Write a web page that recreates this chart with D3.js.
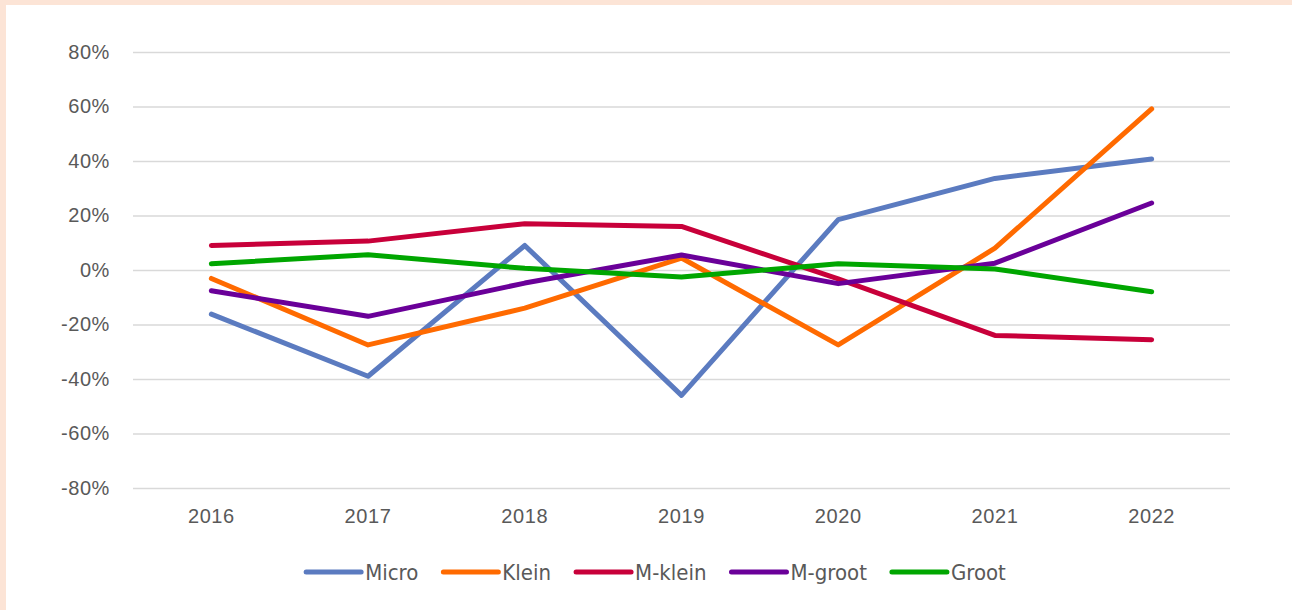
<!DOCTYPE html>
<meta charset="utf-8">
<style>
body { margin: 0; background: #fff; }
.grid line { stroke: #d9d9d9; stroke-width: 1.3; }
.grid path { display: none; }
.axis path, .axis line { display: none; }
.axis text { fill: #595959; font-family: "Liberation Sans", Arial, sans-serif; font-size: 20px; letter-spacing: 0.6px; }
.legend text { fill: #595959; font-family: "Liberation Sans Narrow", "DejaVu Sans Condensed", "Liberation Sans", sans-serif; font-size: 22px; }
</style>
<body>
<svg width="1292" height="610"></svg>
<script src="https://d3js.org/d3.v7.min.js"></script>
<script>

var years = ["2016", "2017", "2018", "2019", "2020", "2021", "2022"];
var yTicks = [-80, -60, -40, -20, 0, 20, 40, 60, 80];

// values in percent
var micro  = [-16.2, -39, 9, -46, 18.5, 33.6, 40.7];
var klein  = [-3.1, -27.5, -14, 4.4, -27.5, 8, 59.1];
var mKlein = [9, 10.6, 17, 16, -3.3, -24, -25.6];
var mGroot = [-7.6, -17, -4.8, 5.5, -5, 2.5, 24.6];
var groot  = [2.3, 5.6, 0.6, -2.6, 2.3, 0.4, -8];

var seriesNames = ["Micro", "Klein", "M-klein", "M-groot", "Groot"];
var seriesColors = ["#5b7bc0", "#ff6a00", "#c8003a", "#6a0099", "#00a600"];
var seriesValues = [micro, klein, mKlein, mGroot, groot];

var svg = d3.select("svg"),
    W = +svg.attr("width"), H = +svg.attr("height");

// peach frame
svg.append("rect").attr("width", W).attr("height", H).attr("fill", "#fce4d6");
svg.append("rect").attr("x", 6).attr("y", 5).attr("width", W - 6).attr("height", H - 5).attr("fill", "#fff");

var x = d3.scaleBand().domain(years).range([133, 1230]),
    y = d3.scaleLinear().domain([-80, 80]).range([488, 52]);

svg.append("g")
    .attr("class", "grid")
    .call(d3.axisLeft(y).tickValues(yTicks).tickSize(-(1230 - 133)).tickFormat(""))
    .attr("transform", "translate(133,0)");

svg.append("g")
    .attr("class", "axis")
    .attr("transform", "translate(133,0)")
    .call(d3.axisLeft(y).tickValues(yTicks).tickSize(0).tickPadding(23)
      .tickFormat(function(d) { return d + "%"; }));

svg.append("g")
    .attr("class", "axis")
    .attr("transform", "translate(0,488)")
    .call(d3.axisBottom(x).tickSize(0).tickPadding(21));

var line = d3.line()
    .x(function(d, i) { return x(years[i]) + x.bandwidth() / 2; })
    .y(function(d) { return y(d); });

svg.selectAll(".series")
  .data(seriesValues)
  .enter().append("path")
    .attr("class", "series")
    .attr("d", line)
    .attr("fill", "none")
    .attr("stroke", function(d, i) { return seriesColors[i]; })
    .attr("stroke-width", 5)
    .attr("stroke-linecap", "round")
    .attr("stroke-linejoin", "round");

// legend, laid out from measured text widths and centred
var lg = svg.append("g").attr("class", "legend");
var items = lg.selectAll("g").data(seriesNames).enter().append("g");
items.append("line")
    .attr("x1", 0).attr("x2", 55).attr("y1", 0).attr("y2", 0)
    .attr("stroke", function(d, i) { return seriesColors[i]; })
    .attr("stroke-width", 5)
    .attr("stroke-linecap", "round");
items.append("text")
    .attr("x", 59).attr("dy", "0.35em")
    .text(function(d) { return d; });

var pos = 0, offsets = [];
items.each(function() {
  offsets.push(pos);
  pos += 59 + this.querySelector("text").getComputedTextLength() + 25;
});
var total = pos - 25;
var start = 656 - total / 2;
items.attr("transform", function(d, i) { return "translate(" + (start + offsets[i]) + ",572)"; });

</script>
</body>
